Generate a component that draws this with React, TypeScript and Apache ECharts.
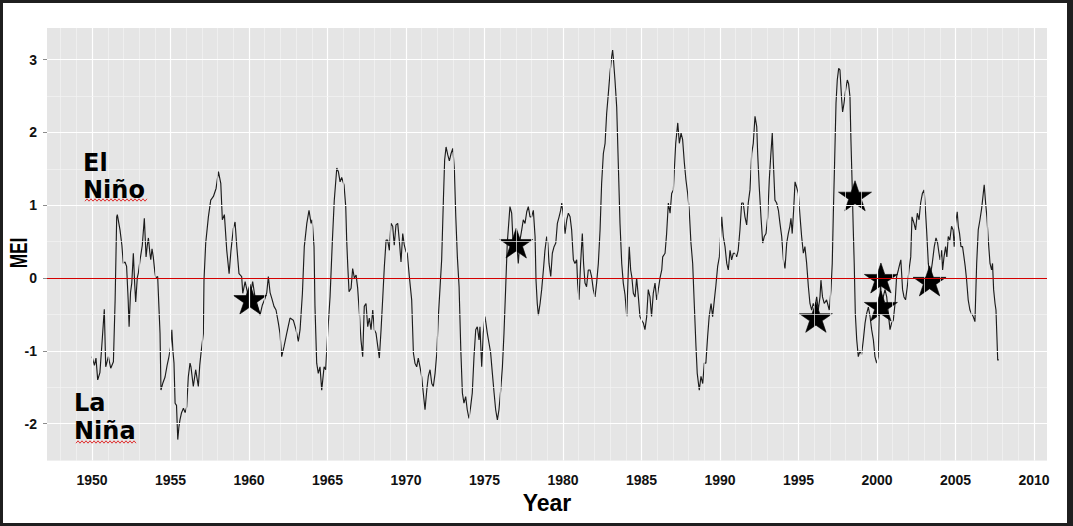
import React, { useEffect, useRef } from "react";
import * as echarts from "echarts";

// ---------- DATA ----------
const xTickYears = [1950, 1955, 1960, 1965, 1970, 1975, 1980, 1985, 1990, 1995, 2000, 2005, 2010];
const yTickValues = [-2, -1, 0, 1, 2, 3];
const yGridValues = [-2.5, -2, -1.5, -1, -0.5, 0, 0.5, 1, 1.5, 2, 2.5, 3];
const xGridYears = [
  1948, 1949, 1950, 1951, 1952, 1953, 1954, 1955, 1956, 1957, 1958, 1959, 1960, 1961, 1962, 1963,
  1964, 1965, 1966, 1967, 1968, 1969, 1970, 1971, 1972, 1973, 1974, 1975, 1976, 1977, 1978, 1979,
  1980, 1981, 1982, 1983, 1984, 1985, 1986, 1987, 1988, 1989, 1990, 1991, 1992, 1993, 1994, 1995,
  1996, 1997, 1998, 1999, 2000, 2001, 2002, 2003, 2004, 2005, 2006, 2007, 2008, 2009, 2010,
];

const mei1950s: [number, number][] = [
  [1950.0, -1.08], [1950.15, -1.2], [1950.25, -1.1], [1950.36, -1.4], [1950.5, -1.3], [1950.66, -0.81],
  [1950.78, -0.43], [1950.87, -1.22], [1951.04, -1.08], [1951.19, -1.24], [1951.36, -1.15], [1951.47, -0.3],
  [1951.57, 0.84], [1951.61, 0.87], [1951.78, 0.66], [1951.9, 0.45], [1951.99, 0.2], [1952.1, 0.22],
  [1952.2, 0.16], [1952.3, -0.3], [1952.36, -0.67], [1952.45, -0.2], [1952.53, -0.07], [1952.63, 0.34],
  [1952.72, -0.1], [1952.78, -0.33], [1952.88, 0.0], [1952.95, 0.07], [1953.06, 0.25], [1953.2, 0.45],
  [1953.33, 0.82], [1953.44, 0.29], [1953.52, 0.45], [1953.59, 0.55], [1953.68, 0.35], [1953.74, 0.25],
  [1953.82, 0.4], [1953.9, 0.29], [1954.0, 0.08], [1954.06, 0.0], [1954.18, 0.02], [1954.26, -0.4],
  [1954.33, -0.76], [1954.39, -1.54], [1954.5, -1.45], [1954.65, -1.36], [1954.78, -1.2], [1954.9, -1.08],
  [1955.0, -0.95], [1955.08, -0.71], [1955.15, -1.0], [1955.22, -1.17], [1955.29, -1.72], [1955.38, -1.75],
  [1955.46, -2.22], [1955.53, -2.05], [1955.6, -1.95], [1955.7, -1.85], [1955.82, -1.79], [1955.93, -1.85],
  [1956.03, -1.77], [1956.13, -1.36], [1956.24, -1.17], [1956.3, -1.22], [1956.45, -1.49], [1956.6, -1.26],
  [1956.77, -1.49], [1956.86, -1.2], [1956.94, -1.03], [1957.09, -0.76], [1957.13, -0.03], [1957.24, 0.48],
  [1957.41, 0.84], [1957.56, 1.07], [1957.73, 1.12], [1957.9, 1.23], [1958.05, 1.46], [1958.2, 1.3],
  [1958.3, 0.8], [1958.43, 0.87], [1958.58, 0.38], [1958.73, 0.06], [1958.85, 0.38], [1959.0, 0.68],
  [1959.11, 0.77], [1959.22, 0.43], [1959.36, 0.06], [1959.53, 0.02], [1959.6, -0.21], [1959.75, -0.05],
  [1959.9, -0.2],
];

const mei1960s: [number, number][] = [
  [1960.06, -0.26], [1960.23, -0.05], [1960.38, -0.26], [1960.55, -0.39], [1960.7, -0.51], [1960.85, -0.37],
  [1961.02, -0.28], [1961.13, -0.2], [1961.23, 0.02], [1961.34, -0.2], [1961.45, -0.28], [1961.59, -0.39],
  [1961.72, -0.44], [1961.87, -0.62], [1961.97, -0.76], [1962.08, -1.08], [1962.23, -0.94], [1962.4, -0.76],
  [1962.61, -0.55], [1962.82, -0.58], [1962.99, -0.71], [1963.04, -0.76], [1963.14, -0.87], [1963.25, -0.71],
  [1963.4, -0.21], [1963.52, 0.43], [1963.68, 0.75], [1963.82, 0.93], [1963.95, 0.75], [1964.02, 0.8],
  [1964.14, 0.43], [1964.2, -0.39], [1964.31, -1.17], [1964.41, -1.31], [1964.52, -1.22], [1964.63, -1.54],
  [1964.78, -1.22], [1964.88, -1.26], [1965.01, -0.76], [1965.16, -0.26], [1965.31, 0.52], [1965.43, 1.07],
  [1965.59, 1.51], [1965.69, 1.46], [1965.8, 1.32], [1965.9, 1.38], [1966.05, 1.28], [1966.16, 0.98],
  [1966.22, 0.52], [1966.29, 0.16], [1966.37, -0.19], [1966.5, -0.14], [1966.6, 0.13], [1966.71, 0.0],
  [1966.82, 0.04], [1966.92, -0.14], [1967.03, -0.49], [1967.13, -0.85], [1967.24, -1.08], [1967.34, -0.39],
  [1967.45, -0.35], [1967.56, -0.67], [1967.66, -0.55], [1967.77, -0.71], [1967.88, -0.44], [1967.98, -0.71],
  [1968.09, -0.76], [1968.2, -0.94], [1968.3, -1.1], [1968.41, -0.71], [1968.52, -0.26], [1968.62, 0.16],
  [1968.73, 0.52], [1968.83, 0.52], [1968.94, 0.38], [1969.04, 0.75], [1969.15, 0.71], [1969.25, 0.45],
  [1969.36, 0.73], [1969.47, 0.75], [1969.57, 0.52], [1969.68, 0.22], [1969.79, 0.61], [1969.89, 0.45],
];

const mei1970s: [number, number][] = [
  [1970.0, 0.36], [1970.08, 0.34], [1970.21, 0.02], [1970.36, -0.3], [1970.47, -1.03], [1970.57, -1.17],
  [1970.68, -1.22], [1970.78, -1.1], [1970.89, -1.22], [1971.0, -1.36], [1971.1, -1.58], [1971.21, -1.81],
  [1971.32, -1.54], [1971.42, -1.35], [1971.53, -1.26], [1971.64, -1.45], [1971.74, -1.49], [1971.85, -1.31],
  [1971.96, -1.03], [1972.06, -0.53], [1972.17, -0.12], [1972.27, 0.25], [1972.38, 1.07], [1972.46, 1.62],
  [1972.55, 1.8], [1972.66, 1.69], [1972.76, 1.61], [1972.87, 1.71], [1972.98, 1.78], [1973.08, 1.49],
  [1973.17, 0.84], [1973.27, 0.29], [1973.38, -0.12], [1973.49, -0.99], [1973.59, -1.58], [1973.69, -1.72],
  [1973.8, -1.63], [1973.9, -1.81], [1974.01, -1.93], [1974.12, -1.76], [1974.22, -1.58], [1974.33, -1.08],
  [1974.44, -0.71], [1974.54, -0.67], [1974.65, -0.85], [1974.71, -0.67], [1974.82, -1.22], [1974.92, -0.76],
  [1975.03, -0.53], [1975.18, -0.76], [1975.29, -0.9], [1975.39, -1.03], [1975.5, -1.31], [1975.61, -1.58],
  [1975.71, -1.81], [1975.82, -1.95], [1975.92, -1.81], [1976.03, -1.54], [1976.14, -1.22], [1976.24, -0.76],
  [1976.35, -0.12], [1976.45, 0.48], [1976.62, 0.98], [1976.73, 0.89], [1976.83, 0.43], [1976.94, 0.57],
  [1977.05, 0.5], [1977.15, 0.2], [1977.26, 0.52], [1977.37, 0.66], [1977.47, 0.8], [1977.58, 0.75],
  [1977.69, 0.91], [1977.79, 0.98], [1977.9, 0.84], [1978.0, 0.84], [1978.11, 0.93], [1978.22, 0.57],
  [1978.28, -0.03], [1978.36, -0.35], [1978.43, -0.51], [1978.54, -0.35], [1978.64, -0.16], [1978.75, 0.11],
  [1978.85, 0.38], [1978.96, 0.57], [1979.03, 0.48], [1979.11, 0.2], [1979.22, 0.02], [1979.32, 0.34],
  [1979.43, 0.43], [1979.54, 0.48], [1979.64, 0.75], [1979.75, 0.84], [1979.85, 0.93], [1979.92, 1.03],
];

const mei1980s: [number, number][] = [
  [1980.03, 0.84], [1980.13, 0.61], [1980.24, 0.8], [1980.34, 0.89], [1980.45, 0.84], [1980.55, 0.66],
  [1980.66, 0.25], [1980.76, 0.2], [1980.87, 0.25], [1980.93, -0.07], [1981.02, -0.3], [1981.12, 0.2],
  [1981.23, 0.61], [1981.31, 0.2], [1981.4, -0.07], [1981.5, -0.12], [1981.61, 0.11], [1981.72, 0.11],
  [1981.82, 0.02], [1981.93, -0.16], [1982.04, -0.26], [1982.14, -0.07], [1982.25, 0.2], [1982.36, 0.66],
  [1982.46, 1.3], [1982.57, 1.71], [1982.68, 1.85], [1982.78, 2.26], [1982.89, 2.54], [1982.99, 2.81],
  [1983.1, 3.04], [1983.16, 3.13], [1983.2, 3.04], [1983.31, 2.72], [1983.42, 2.35], [1983.52, 1.58],
  [1983.63, 0.75], [1983.74, 0.2], [1983.84, -0.07], [1983.95, -0.23], [1984.06, -0.53], [1984.16, 0.11],
  [1984.22, 0.43], [1984.31, 0.11], [1984.38, 0.02], [1984.48, -0.21], [1984.59, -0.26], [1984.69, 0.0],
  [1984.8, -0.26], [1984.9, -0.53], [1985.01, -0.58], [1985.12, -0.62], [1985.22, -0.71], [1985.33, -0.53],
  [1985.43, -0.16], [1985.54, -0.26], [1985.64, -0.53], [1985.75, -0.21], [1985.86, -0.07], [1985.97, -0.3],
  [1986.07, -0.16], [1986.18, 0.0], [1986.29, 0.11], [1986.35, 0.29], [1986.5, 0.34], [1986.6, 0.61],
  [1986.71, 1.03], [1986.82, 0.89], [1986.92, 1.16], [1987.03, 1.21], [1987.09, 1.48], [1987.18, 1.85],
  [1987.31, 2.13], [1987.41, 1.85], [1987.52, 1.99], [1987.62, 1.9], [1987.73, 1.58], [1987.83, 1.35],
  [1987.94, 1.16], [1988.04, 0.93], [1988.15, 0.48], [1988.26, 0.2], [1988.36, -0.35], [1988.47, -0.94],
  [1988.55, -1.31], [1988.68, -1.54], [1988.79, -1.35], [1988.9, -1.45], [1989.0, -1.17], [1989.1, -1.17],
  [1989.21, -0.81], [1989.31, -0.53], [1989.43, -0.35], [1989.53, -0.53], [1989.64, -0.3], [1989.74, -0.1],
  [1989.85, 0.16], [1989.96, 0.29],
];

const mei1990s: [number, number][] = [
  [1990.11, 0.84], [1990.21, 0.57], [1990.32, 0.43], [1990.43, 0.2], [1990.53, 0.11], [1990.64, 0.38],
  [1990.74, 0.25], [1990.85, 0.34], [1990.95, 0.34], [1991.06, 0.29], [1991.16, 0.38], [1991.27, 0.66],
  [1991.38, 1.03], [1991.48, 1.03], [1991.59, 0.84], [1991.7, 0.73], [1991.8, 1.03], [1991.91, 1.21],
  [1992.02, 1.71], [1992.12, 1.85], [1992.23, 2.22], [1992.34, 2.08], [1992.4, 1.71], [1992.5, 1.25],
  [1992.61, 0.84], [1992.72, 0.48], [1992.82, 0.57], [1992.93, 0.61], [1993.04, 0.84], [1993.14, 1.35],
  [1993.23, 1.67], [1993.33, 1.99], [1993.4, 1.58], [1993.5, 1.07], [1993.61, 1.03], [1993.72, 0.93],
  [1993.82, 0.75], [1993.93, 0.57], [1994.04, 0.25], [1994.14, 0.13], [1994.25, 0.48], [1994.35, 0.61],
  [1994.45, 0.71], [1994.52, 0.82], [1994.6, 0.61], [1994.69, 0.93], [1994.78, 1.32], [1994.88, 1.25],
  [1994.99, 1.16], [1995.1, 0.84], [1995.2, 0.57], [1995.31, 0.34], [1995.41, 0.43], [1995.52, 0.2],
  [1995.63, -0.12], [1995.73, -0.35], [1995.84, -0.44], [1995.94, -0.35], [1996.05, -0.4], [1996.16, -0.26],
  [1996.26, -0.44], [1996.37, -0.26], [1996.43, -0.03], [1996.53, -0.26], [1996.64, -0.35], [1996.79, -0.3],
  [1996.96, -0.44], [1997.07, -0.16], [1997.15, 0.2], [1997.22, 0.89], [1997.3, 1.58], [1997.39, 2.4],
  [1997.47, 2.72], [1997.56, 2.88], [1997.64, 2.86], [1997.75, 2.45], [1997.81, 2.28], [1997.9, 2.4],
  [1998.0, 2.58], [1998.11, 2.72], [1998.19, 2.67], [1998.28, 2.49], [1998.34, 1.9], [1998.41, 1.35],
  [1998.49, 0.66], [1998.55, 0.2], [1998.62, -0.49], [1998.71, -0.85], [1998.81, -1.08], [1998.92, -1.0],
  [1999.02, -1.05], [1999.13, -0.85], [1999.24, -0.62], [1999.34, -0.49], [1999.45, -0.4], [1999.56, -0.53],
  [1999.66, -0.71], [1999.77, -0.85], [1999.87, -1.08], [1999.98, -1.17],
];

const mei2000s: [number, number][] = [
  [2000.08, -1.08], [2000.14, -0.53], [2000.23, -0.07], [2000.3, -0.4], [2000.4, -0.26], [2000.51, -0.16],
  [2000.62, -0.26], [2000.72, -0.49], [2000.83, -0.71], [2000.93, -0.62], [2001.04, -0.58], [2001.15, -0.35],
  [2001.25, 0.02], [2001.36, 0.11], [2001.46, 0.2], [2001.52, 0.25], [2001.63, -0.16], [2001.72, -0.26],
  [2001.82, -0.3], [2001.93, -0.12], [2002.04, 0.11], [2002.15, 0.29], [2002.23, 0.84], [2002.36, 0.75],
  [2002.46, 0.66], [2002.57, 0.89], [2002.68, 0.8], [2002.78, 1.03], [2002.89, 1.16], [2003.0, 1.21],
  [2003.06, 1.03], [2003.16, 0.66], [2003.27, 0.2], [2003.38, 0.0], [2003.52, 0.2], [2003.65, 0.43],
  [2003.76, 0.55], [2003.86, 0.48], [2003.95, 0.34], [2004.02, 0.25], [2004.12, 0.38], [2004.18, 0.11],
  [2004.27, 0.29], [2004.37, 0.43], [2004.45, 0.29], [2004.54, 0.57], [2004.64, 0.52], [2004.75, 0.71],
  [2004.85, 0.66], [2004.92, 0.43], [2005.01, 0.75], [2005.11, 0.91], [2005.18, 0.71], [2005.26, 0.61],
  [2005.35, 0.43], [2005.45, 0.43], [2005.54, 0.29], [2005.62, 0.16], [2005.71, -0.03], [2005.81, -0.3],
  [2005.92, -0.44], [2006.02, -0.49], [2006.13, -0.53], [2006.24, -0.6], [2006.35, 0.2], [2006.45, 0.66],
  [2006.56, 0.8], [2006.67, 0.96], [2006.77, 1.16], [2006.83, 1.28], [2006.92, 1.03], [2007.0, 0.84],
  [2007.09, 0.52], [2007.2, 0.2], [2007.3, 0.11], [2007.36, 0.2], [2007.43, -0.16], [2007.52, -0.35],
  [2007.58, -0.44], [2007.64, -0.81], [2007.69, -1.13], [2007.75, -1.12],
];

const starYears = [1960.06, 1977.02, 1996.11, 1998.6, 2000.25, 2000.25, 2003.35];
const starValues = [-0.29, 0.48, -0.54, 1.13, 0.0, -0.385, -0.04];

// ---------- STYLE ----------
const AXIS_FONT = "'Liberation Sans', Arial, sans-serif";
const NOTE_FONT = "'DejaVu Sans', Verdana, sans-serif";
const STAR_PATH =
  "path://M50,0 L61.2,34.5 L97.6,34.5 L68.2,55.9 L79.4,90.5 L50,69.1 L20.6,90.5 L31.8,55.9 L2.4,34.5 L38.8,34.5 Z";

function squiggle(x0: number, x1: number, y: number) {
  const pts: number[][] = [];
  let i = 0;
  for (let x = x0; x <= x1; x += 2) {
    pts.push([x, y + (i % 2 === 0 ? 1.2 : -1.2)]);
    i++;
  }
  return pts;
}

export default function App() {
  const ref = useRef<HTMLDivElement>(null);

  useEffect(() => {
    if (!ref.current) return;
    const chart = echarts.init(ref.current, null, { renderer: "svg" });

    const meiPoints = [...mei1950s, ...mei1960s, ...mei1970s, ...mei1980s, ...mei1990s, ...mei2000s];
    const starData = starYears.map((y, i) => [y, starValues[i]]);

    const gridLines: any[] = [];
    xGridYears.forEach((yr) => {
      const major = yr % 5 === 0;
      gridLines.push({
        xAxis: yr,
        lineStyle: { color: major ? "#ffffff" : "#f3f3f3", width: major ? 1.2 : 0.7, type: "solid" },
      });
    });
    yGridValues.forEach((v) => {
      const major = Number.isInteger(v);
      gridLines.push({
        yAxis: v,
        lineStyle: { color: major ? "#ffffff" : "#f3f3f3", width: major ? 1.2 : 0.7, type: "solid" },
      });
    });

    const noteStyle = (text: string) => ({
      text,
      fontFamily: NOTE_FONT,
      fontWeight: "bold",
      fontSize: 24,
      fill: "#000",
      verticalAlign: "middle",
      align: "left",
    });

    const option: any = {
      animation: false,
      backgroundColor: "#ffffff",
      grid: {
        left: 47,
        right: 26,
        top: 28,
        bottom: 65,
        show: true,
        backgroundColor: "#e5e5e5",
        borderWidth: 0,
        containLabel: false,
        outerBoundsMode: "none",
      },
      xAxis: {
        type: "value",
        min: 1947.13,
        max: 2010.83,
        name: "Year",
        nameLocation: "middle",
        nameGap: 29,
        nameTextStyle: { fontFamily: AXIS_FONT, fontWeight: "bold", fontSize: 23, color: "#000" },
        axisLine: { show: false },
        axisTick: { show: true, length: 4, lineStyle: { color: "#8c8c8c" }, customValues: xTickYears },
        axisLabel: {
          customValues: xTickYears,
          formatter: (v: number) => String(Math.round(v)),
          fontFamily: AXIS_FONT,
          fontWeight: "bold",
          fontSize: 14,
          color: "#111",
          margin: 12,
        },
        splitLine: { show: false },
      },
      yAxis: {
        type: "value",
        min: -2.514,
        max: 3.434,
        axisLine: { show: false },
        axisTick: { show: true, length: 4, lineStyle: { color: "#8c8c8c" }, customValues: yTickValues },
        axisLabel: {
          customValues: yTickValues,
          formatter: (v: number) => String(Math.round(v)),
          fontFamily: AXIS_FONT,
          fontWeight: "bold",
          fontSize: 14,
          color: "#111",
          margin: 10,
        },
        splitLine: { show: false },
      },
      series: [
        {
          type: "line",
          name: "grid",
          data: [[1947.13, 0]],
          symbol: "none",
          lineStyle: { opacity: 0 },
          silent: true,
          z: 1,
          markLine: {
            silent: true,
            symbol: "none",
            label: { show: false },
            animation: false,
            data: gridLines,
          },
        },
        {
          type: "line",
          name: "MEI",
          data: meiPoints,
          symbol: "none",
          showSymbol: false,
          lineStyle: { color: "#1c1c1c", width: 1.15 },
          silent: true,
          z: 2,
        },
        {
          type: "line",
          name: "zero",
          data: [[1947.13, 0]],
          symbol: "none",
          lineStyle: { opacity: 0 },
          silent: true,
          z: 3,
          markLine: {
            silent: true,
            symbol: "none",
            label: { show: false },
            animation: false,
            data: [{ yAxis: 0, lineStyle: { color: "#d40000", width: 1.2, type: "solid" } }],
          },
        },
        {
          type: "scatter",
          name: "events",
          data: starData,
          symbol: STAR_PATH,
          symbolSize: [33, 30],
          itemStyle: { color: "#000", opacity: 1, borderColor: "#000", borderWidth: 0.6 },
          silent: true,
          z: 4,
        },
      ],
      graphic: [
        {
          type: "text",
          x: 18,
          y: 253,
          rotation: Math.PI / 2,
          scaleX: 0.72,
          z: 10,
          style: {
            text: "MEI",
            fontFamily: AXIS_FONT,
            fontWeight: "bold",
            fontSize: 24,
            fill: "#000",
            align: "center",
            verticalAlign: "middle",
          },
        },
        { type: "text", x: 83, y: 163, z: 10, style: noteStyle("El") },
        { type: "text", x: 83, y: 190, z: 10, style: noteStyle("Niño") },
        { type: "text", x: 74, y: 403, z: 10, style: noteStyle("La") },
        { type: "text", x: 74, y: 431, z: 10, style: noteStyle("Niña") },
        {
          type: "polyline",
          z: 10,
          shape: { points: squiggle(85, 147, 200) },
          style: { stroke: "#e03030", lineWidth: 1, fill: null },
        },
        {
          type: "polyline",
          z: 10,
          shape: { points: squiggle(76, 136, 442) },
          style: { stroke: "#e03030", lineWidth: 1, fill: null },
        },
      ],
    };

    chart.setOption(option);
    return () => chart.dispose();
  }, []);

  return (
    <div style={{ position: "fixed", left: 0, top: 0, width: 1073, height: 526, background: "#fff" }}>
      <div ref={ref} style={{ width: 1073, height: 526 }} />
      <div
        style={{
          position: "absolute",
          left: 0,
          top: 0,
          width: 1073,
          height: 526,
          boxSizing: "border-box",
          borderStyle: "solid",
          borderColor: "#1f1f1f",
          borderWidth: "3px 6px 3px 3px",
          pointerEvents: "none",
        }}
      />
    </div>
  );
}
